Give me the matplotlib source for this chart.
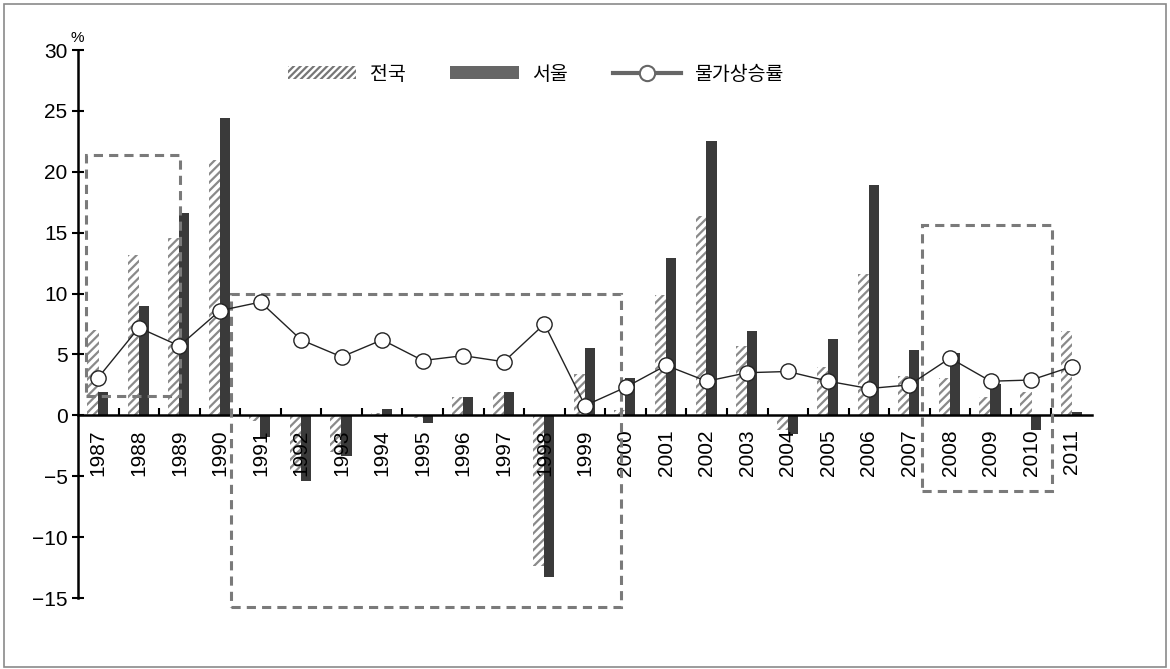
import numpy as np
import matplotlib
matplotlib.use("Agg")
import matplotlib.pyplot as plt
from matplotlib.patches import Patch, Rectangle
from matplotlib.lines import Line2D

plt.rcParams['font.family'] = ['Liberation Sans Narrow', 'Liberation Sans', 'DejaVu Sans']
plt.rcParams['hatch.linewidth'] = 1.6
plt.rcParams['axes.unicode_minus'] = True

years = [str(y) for y in range(1987, 2012)]
nation = [7.0, 13.2, 14.6, 21.0, -0.5, -4.6, -3.0, 0.2, -0.2, 1.5, 1.9, -12.4,
          3.4, 0.4, 9.9, 16.4, 5.7, -1.2, 4.0, 11.6, 3.2, 3.1, 1.5, 1.9, 6.9]
seoul = [1.9, 9.0, 16.6, 24.4, -1.8, -5.4, -3.3, 0.5, -0.6, 1.5, 1.9, -13.3,
         5.5, 3.1, 12.9, 22.5, 6.9, -1.5, 6.3, 18.9, 5.4, 5.1, 2.6, -1.2, 0.3]
cpi = [3.1, 7.2, 5.7, 8.6, 9.3, 6.2, 4.8, 6.2, 4.5, 4.9, 4.4, 7.5,
       0.8, 2.3, 4.1, 2.8, 3.5, 3.6, 2.8, 2.2, 2.5, 4.7, 2.8, 2.9, 4.0]
labels = ['전국', '서울', '물가상승률']

# highlighted periods (x0, y0, x1, y1) in data units
highlights = [(-0.30, 1.6, 2.01, 21.4),
              (3.27, -15.7, 12.89, 10.0),
              (20.31, -6.2, 23.51, 15.6)]

W, H = 1170, 669
fig = plt.figure(figsize=(W / 100, H / 100), dpi=100)
ax = fig.add_axes([78 / W, 1 - 598 / H, (1092 - 78) / W, (598 - 50) / H])

x = np.arange(len(years))
hatch_gray = '#8a8a8a'
dark = '#3a3a3a'

ax.bar(x - 0.13, nation, width=0.29, color='white', edgecolor=hatch_gray,
       hatch='////', linewidth=0, zorder=1)
ax.bar(x + 0.12, seoul, width=0.25, color=dark, linewidth=0, zorder=1.2)
ax.plot(x, cpi, color='#222222', lw=1.0, marker='o', ms=11,
        mfc='white', mec='#222222', mew=1.0, zorder=5)

for x0, y0, x1, y1 in highlights:
    ax.add_patch(Rectangle((x0, y0), x1 - x0, y1 - y0, fill=False,
                           ec='#7a7a7a', lw=2.2, ls=(0, (3, 2)),
                           clip_on=False, zorder=4))

ax.set_xlim(-0.5, len(years) - 0.5)
ax.set_ylim(-15, 30)
ax.set_yticks(np.arange(-15, 31, 5))
ax.set_yticklabels([f'{v}' if v >= 0 else f'\u2212{-v}' for v in range(-15, 31, 5)])

ax.spines['top'].set_visible(False)
ax.spines['right'].set_visible(False)
ax.spines['left'].set_linewidth(1.8)
ax.spines['bottom'].set_linewidth(1.8)
ax.spines['bottom'].set_position(('data', 0))
ax.spines['bottom'].set_zorder(3)
ax.xaxis.set_zorder(3)

ax.set_xticks(x)
ax.set_xticklabels(years, rotation=90, va='top')
ax.set_xticks(np.arange(0.5, len(years) - 0.5, 1), minor=True)
ax.tick_params(axis='x', which='major', length=0, pad=10, labelsize=15)
ax.tick_params(axis='x', which='minor', direction='in', length=5, width=1.5)
ax.tick_params(axis='y', direction='inout', length=9, width=1.5, pad=3, labelsize=15)

fig.text(77 / W, 1 - 38 / H, '%', ha='center', va='center', fontsize=11)

handles = [Patch(facecolor='white', edgecolor='#777777', hatch='/////', linewidth=0),
           Patch(facecolor='#666666', linewidth=0),
           Line2D([], [], color='#666666', lw=3, marker='o', ms=11,
                  mfc='white', mec='#666666', mew=1.5)]
fig.legend(handles, labels, loc='center', bbox_to_anchor=(536 / W, 1 - 74 / H),
           ncol=3, frameon=False, handlelength=3.5, handleheight=0.65,
           columnspacing=2.3, handletextpad=0.7,
           prop={'family': ['Noto Sans CJK KR', 'DejaVu Sans'], 'size': 14})

fig.add_artist(Rectangle((4 / W, 2 / H), (W - 8) / W, (H - 6) / H,
                         transform=fig.transFigure, fill=False,
                         ec='#8a8a8a', lw=1.2))

fig.savefig('out.png', dpi=100)
